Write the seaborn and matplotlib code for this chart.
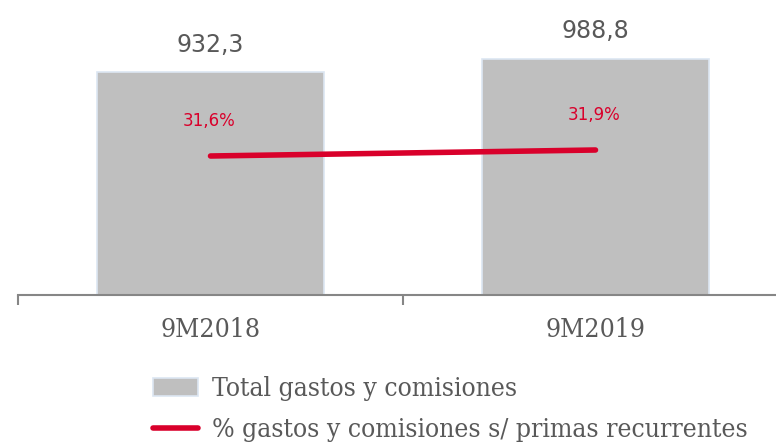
import matplotlib
matplotlib.use("Agg")
import matplotlib.pyplot as plt
import seaborn as sns
import pandas as pd
from matplotlib.patches import Patch
from matplotlib.lines import Line2D

periods = ["9M2018", "9M2019"]
total_gastos = [932.3, 988.8]
pct_gastos = [31.6, 31.9]
bar_labels = ["932,3", "988,8"]
pct_labels = ["31,6%", "31,9%"]

sns.set_style("white")
plt.rcParams["font.family"] = ["DejaVu Serif"]
plt.rcParams["font.stretch"] = "condensed"

gray_txt = "#595959"
red = "#D9002B"

fig = plt.figure(figsize=(7.76, 4.45), dpi=100)
ax = fig.add_axes([18 / 776, 1 - 295 / 445, 770 / 776, 295 / 445])

df = pd.DataFrame({"period": periods, "total": total_gastos})
sns.barplot(data=df, x="period", y="total", ax=ax, color="#BFBFBF",
            saturation=1, width=0.592, edgecolor="#DCE6F2", linewidth=1.2)
ax.set_ylim(0, 1235)
ax.set_xlim(-0.5, 1.5)

for i, (v, lab) in enumerate(zip(total_gastos, bar_labels)):
    ax.text(i, v + 66, lab, ha="center", va="bottom", fontsize=17,
            color=gray_txt, family="DejaVu Sans", fontstretch="normal")

ax2 = ax.twinx()
sns.lineplot(x=[0, 1], y=pct_gastos, ax=ax2, color=red, linewidth=4,
             solid_capstyle="round")
ax2.set_ylim(24.65, 39.4)
ax2.set_xlim(-0.5, 1.5)
for i, (v, lab) in enumerate(zip(pct_gastos, pct_labels)):
    ax2.text(i - 0.005, v + 1.3, lab, ha="center", va="bottom", fontsize=12,
             color=red, family="DejaVu Sans", fontstretch="normal")

for a in (ax, ax2):
    a.set_yticks([])
    a.set_ylabel("")
    for s in ["top", "left", "right"]:
        a.spines[s].set_visible(False)
ax2.spines["bottom"].set_visible(False)

ax.spines["bottom"].set_color("#868686")
ax.spines["bottom"].set_linewidth(1.5)
ax.set_xlabel("")
ax.set_xticks([0, 1])
ax.set_xticklabels(periods, fontsize=19, color=gray_txt)
ax.tick_params(axis="x", which="major", bottom=True, length=0, pad=16)
ax.set_xticks([-0.5, 0.5, 1.5], minor=True)
ax.tick_params(axis="x", which="minor", bottom=True, length=7, width=1.5,
               color="#868686", direction="out")

handles = [
    Patch(facecolor="#BFBFBF", edgecolor="#DCE6F2", linewidth=1.2),
    Line2D([0], [0], color=red, linewidth=4, solid_capstyle="round"),
]
labels = ["Total gastos y comisiones",
          "% gastos y comisiones s/ primas recurrentes"]
fig.legend(handles, labels, loc="upper left",
           bbox_to_anchor=(153 / 776, 1 - 376 / 445), frameon=False,
           fontsize=19, labelcolor=gray_txt, handlelength=1.7,
           handleheight=0.7, handletextpad=0.55, labelspacing=0.6,
           borderpad=0, borderaxespad=0)

fig.savefig("out.png", dpi=100)
